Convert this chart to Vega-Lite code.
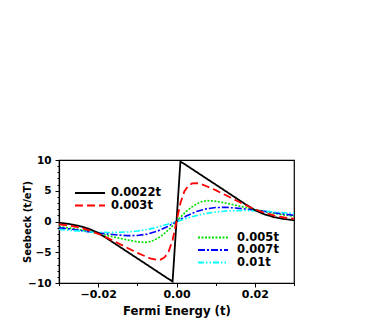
{
  "$schema": "https://vega.github.io/schema/vega-lite/v6.json",
  "autosize": {"type": "none"},
  "padding": {"left": 59, "top": 160, "right": 88, "bottom": 44},
  "width": 235,
  "height": 123,
  "background": "white",
  "config": {
    "view": {"stroke": "black", "strokeWidth": 1.2},
    "font": "DejaVu Sans",
    "axis": {
      "domainColor": "black", "domainWidth": 1.2, "tickColor": "black", "tickWidth": 1,
      "labelColor": "black", "labelFont": "DejaVu Sans", "labelFontWeight": "bold",
      "titleFont": "DejaVu Sans", "titleFontWeight": "bold", "titleColor": "black",
      "grid": false, "labelOverlap": false, "labelFlush": false
    },
    "legend": {
      "orient": "none", "title": null, "padding": 0, "symbolType": "M-3,0H3",
      "symbolSize": 100, "symbolStrokeWidth": 2, "labelFont": "DejaVu Sans",
      "labelFontWeight": "bold", "labelFontSize": 11.5, "labelColor": "black", "rowPadding": 0.5
    }
  },
  "data": {"values": [
    {"T":"0.0022t","E":-0.03,"S":-0.2},{"T":"0.0022t","E":-0.0275,"S":-0.4},{"T":"0.0022t","E":-0.025,"S":-0.7},{"T":"0.0022t","E":-0.0225,"S":-1.15},{"T":"0.0022t","E":-0.02,"S":-1.85},{"T":"0.0022t","E":-0.0175,"S":-2.85},{"T":"0.0022t","E":-0.015,"S":-3.9},{"T":"0.0022t","E":-0.0125,"S":-4.95},{"T":"0.0022t","E":-0.01,"S":-6.0},{"T":"0.0022t","E":-0.0075,"S":-7.05},{"T":"0.0022t","E":-0.005,"S":-8.1},{"T":"0.0022t","E":-0.0025,"S":-9.15},{"T":"0.0022t","E":-0.001,"S":-9.75},
    {"T":"0.0022t","E":0.001,"S":9.75},{"T":"0.0022t","E":0.0025,"S":9.15},{"T":"0.0022t","E":0.005,"S":8.1},{"T":"0.0022t","E":0.0075,"S":7.05},{"T":"0.0022t","E":0.01,"S":6.0},{"T":"0.0022t","E":0.0125,"S":4.95},{"T":"0.0022t","E":0.015,"S":3.9},{"T":"0.0022t","E":0.0175,"S":2.85},{"T":"0.0022t","E":0.02,"S":1.85},{"T":"0.0022t","E":0.0225,"S":1.15},{"T":"0.0022t","E":0.025,"S":0.7},{"T":"0.0022t","E":0.0275,"S":0.4},{"T":"0.0022t","E":0.03,"S":0.2},
    {"T":"0.003t","E":-0.03,"S":-0.45},{"T":"0.003t","E":-0.0275,"S":-0.65},{"T":"0.003t","E":-0.025,"S":-0.95},{"T":"0.003t","E":-0.0225,"S":-1.4},{"T":"0.003t","E":-0.02,"S":-2.0},{"T":"0.003t","E":-0.0175,"S":-2.7},{"T":"0.003t","E":-0.015,"S":-3.5},{"T":"0.003t","E":-0.0125,"S":-4.3},{"T":"0.003t","E":-0.01,"S":-5.1},{"T":"0.003t","E":-0.008,"S":-5.65},{"T":"0.003t","E":-0.0065,"S":-6.05},{"T":"0.003t","E":-0.005,"S":-6.25},{"T":"0.003t","E":-0.004,"S":-6.2},{"T":"0.003t","E":-0.003,"S":-5.8},{"T":"0.003t","E":-0.002,"S":-4.9},{"T":"0.003t","E":-0.001,"S":-3.0},{"T":"0.003t","E":0,"S":0},
    {"T":"0.003t","E":0.001,"S":3.0},{"T":"0.003t","E":0.002,"S":4.9},{"T":"0.003t","E":0.003,"S":5.8},{"T":"0.003t","E":0.004,"S":6.2},{"T":"0.003t","E":0.005,"S":6.25},{"T":"0.003t","E":0.0065,"S":6.05},{"T":"0.003t","E":0.008,"S":5.65},{"T":"0.003t","E":0.01,"S":5.1},{"T":"0.003t","E":0.0125,"S":4.3},{"T":"0.003t","E":0.015,"S":3.5},{"T":"0.003t","E":0.0175,"S":2.7},{"T":"0.003t","E":0.02,"S":2.0},{"T":"0.003t","E":0.0225,"S":1.4},{"T":"0.003t","E":0.025,"S":0.95},{"T":"0.003t","E":0.0275,"S":0.65},{"T":"0.003t","E":0.03,"S":0.45},
    {"T":"0.005t","E":-0.03,"S":-0.85},{"T":"0.005t","E":-0.0275,"S":-1.05},{"T":"0.005t","E":-0.025,"S":-1.3},{"T":"0.005t","E":-0.0225,"S":-1.6},{"T":"0.005t","E":-0.02,"S":-1.95},{"T":"0.005t","E":-0.0175,"S":-2.3},{"T":"0.005t","E":-0.015,"S":-2.65},{"T":"0.005t","E":-0.0125,"S":-3.0},{"T":"0.005t","E":-0.01,"S":-3.3},{"T":"0.005t","E":-0.008,"S":-3.4},{"T":"0.005t","E":-0.0065,"S":-3.25},{"T":"0.005t","E":-0.005,"S":-2.8},{"T":"0.005t","E":-0.004,"S":-2.4},{"T":"0.005t","E":-0.003,"S":-1.9},{"T":"0.005t","E":-0.002,"S":-1.35},{"T":"0.005t","E":-0.001,"S":-0.7},{"T":"0.005t","E":0,"S":0},
    {"T":"0.005t","E":0.001,"S":0.7},{"T":"0.005t","E":0.002,"S":1.35},{"T":"0.005t","E":0.003,"S":1.9},{"T":"0.005t","E":0.004,"S":2.4},{"T":"0.005t","E":0.005,"S":2.8},{"T":"0.005t","E":0.0065,"S":3.25},{"T":"0.005t","E":0.008,"S":3.4},{"T":"0.005t","E":0.01,"S":3.3},{"T":"0.005t","E":0.0125,"S":3.0},{"T":"0.005t","E":0.015,"S":2.65},{"T":"0.005t","E":0.0175,"S":2.3},{"T":"0.005t","E":0.02,"S":1.95},{"T":"0.005t","E":0.0225,"S":1.6},{"T":"0.005t","E":0.025,"S":1.3},{"T":"0.005t","E":0.0275,"S":1.05},{"T":"0.005t","E":0.03,"S":0.85},
    {"T":"0.007t","E":-0.03,"S":-1.0},{"T":"0.007t","E":-0.0275,"S":-1.2},{"T":"0.007t","E":-0.025,"S":-1.42},{"T":"0.007t","E":-0.0225,"S":-1.65},{"T":"0.007t","E":-0.02,"S":-1.85},{"T":"0.007t","E":-0.0175,"S":-2.03},{"T":"0.007t","E":-0.015,"S":-2.2},{"T":"0.007t","E":-0.0125,"S":-2.3},{"T":"0.007t","E":-0.01,"S":-2.28},{"T":"0.007t","E":-0.0075,"S":-2.05},{"T":"0.007t","E":-0.005,"S":-1.6},{"T":"0.007t","E":-0.0025,"S":-0.9},{"T":"0.007t","E":0,"S":0},
    {"T":"0.007t","E":0.0025,"S":0.9},{"T":"0.007t","E":0.005,"S":1.6},{"T":"0.007t","E":0.0075,"S":2.05},{"T":"0.007t","E":0.01,"S":2.28},{"T":"0.007t","E":0.0125,"S":2.3},{"T":"0.007t","E":0.015,"S":2.2},{"T":"0.007t","E":0.0175,"S":2.03},{"T":"0.007t","E":0.02,"S":1.85},{"T":"0.007t","E":0.0225,"S":1.65},{"T":"0.007t","E":0.025,"S":1.42},{"T":"0.007t","E":0.0275,"S":1.2},{"T":"0.007t","E":0.03,"S":1.0},
    {"T":"0.01t","E":-0.03,"S":-1.3},{"T":"0.01t","E":-0.0275,"S":-1.42},{"T":"0.01t","E":-0.025,"S":-1.55},{"T":"0.01t","E":-0.0225,"S":-1.67},{"T":"0.01t","E":-0.02,"S":-1.75},{"T":"0.01t","E":-0.0175,"S":-1.78},{"T":"0.01t","E":-0.015,"S":-1.77},{"T":"0.01t","E":-0.0125,"S":-1.7},{"T":"0.01t","E":-0.01,"S":-1.55},{"T":"0.01t","E":-0.0075,"S":-1.3},{"T":"0.01t","E":-0.005,"S":-0.95},{"T":"0.01t","E":-0.0025,"S":-0.5},{"T":"0.01t","E":0,"S":0},
    {"T":"0.01t","E":0.0025,"S":0.5},{"T":"0.01t","E":0.005,"S":0.95},{"T":"0.01t","E":0.0075,"S":1.3},{"T":"0.01t","E":0.01,"S":1.55},{"T":"0.01t","E":0.0125,"S":1.7},{"T":"0.01t","E":0.015,"S":1.77},{"T":"0.01t","E":0.0175,"S":1.78},{"T":"0.01t","E":0.02,"S":1.75},{"T":"0.01t","E":0.0225,"S":1.67},{"T":"0.01t","E":0.025,"S":1.55},{"T":"0.01t","E":0.0275,"S":1.42},{"T":"0.01t","E":0.03,"S":1.3}
  ]},
  "encoding": {
    "x": {
      "field": "E", "type": "quantitative",
      "scale": {"domain": [-0.03, 0.03], "nice": false, "zero": false},
      "axis": {
        "title": "Fermi Energy (t)", "titleFontSize": 11.7, "titlePadding": 6,
        "values": [-0.03, -0.02, -0.01, 0, 0.01, 0.02, 0.03],
        "format": ".2f", "labelFontSize": 11, "labelPadding": 1,
        "labelExpr": "(abs(datum.value) < 0.001 || abs(abs(datum.value) - 0.02) < 0.001) ? datum.label : ''",
        "tickSize": {"condition": {"test": "abs(datum.value) < 0.001 || abs(abs(datum.value) - 0.02) < 0.001", "value": 4}, "value": 2.5}
      }
    },
    "y": {
      "field": "S", "type": "quantitative",
      "scale": {"domain": [-10, 10], "nice": false},
      "axis": {
        "title": "Seebeck (t/eT)", "titleFontSize": 10, "titleX": -32, "titleBaseline": "middle",
        "values": [-10,-9,-8,-7,-6,-5,-4,-3,-2,-1,0,1,2,3,4,5,6,7,8,9,10],
        "labelFontSize": 10.5, "labelPadding": 4,
        "labelExpr": "datum.value % 5 === 0 ? datum.label : ''",
        "tickSize": {"condition": {"test": "datum.value % 5 === 0", "value": 4}, "value": 2}
      }
    }
  },
  "layer": [
    {
      "transform": [{"filter": {"field": "T", "oneOf": ["0.005t", "0.007t", "0.01t"]}}],
      "mark": {"type": "line", "strokeWidth": 1.6},
      "encoding": {
        "color": {"field": "T", "type": "nominal",
          "scale": {"domain": ["0.005t", "0.007t", "0.01t"], "range": ["#00e000", "#0000ff", "#00ffff"]},
          "legend": {"legendX": 148, "legendY": 71.5, "labelOffset": 18}},
        "strokeDash": {"field": "T", "type": "nominal",
          "scale": {"domain": ["0.005t", "0.007t", "0.01t"], "range": [[2, 1.5], [7, 2, 2, 2], [6, 2, 1.5, 2, 1.5, 2]]},
          "legend": {"legendX": 148, "legendY": 71.5, "labelOffset": 18}}
      }
    },
    {
      "transform": [{"filter": {"field": "T", "oneOf": ["0.0022t", "0.003t"]}}],
      "mark": {"type": "line", "strokeWidth": 1.8},
      "encoding": {
        "color": {"field": "T", "type": "nominal",
          "scale": {"domain": ["0.0022t", "0.003t"], "range": ["#000000", "#ff0000"]},
          "legend": {"legendX": 25, "legendY": 27, "labelOffset": 15}},
        "strokeDash": {"field": "T", "type": "nominal",
          "scale": {"domain": ["0.0022t", "0.003t"], "range": [[1, 0], [8, 4]]},
          "legend": {"legendX": 25, "legendY": 27, "labelOffset": 15}}
      }
    }
  ],
  "resolve": {"scale": {"color": "independent", "strokeDash": "independent"}, "legend": {"color": "independent", "strokeDash": "independent"}}
}
